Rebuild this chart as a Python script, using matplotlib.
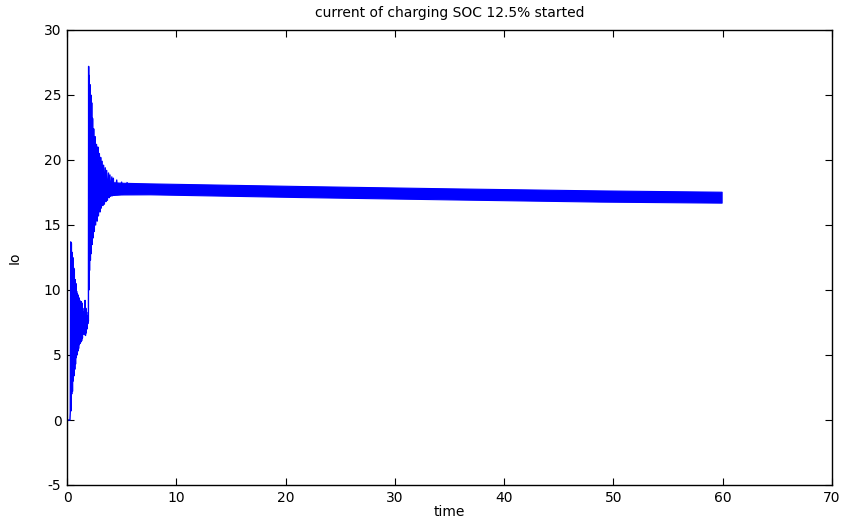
import matplotlib
matplotlib.use("Agg")
import matplotlib.pyplot as plt

# ---- data ----
# turning points of the transient oscillation (time, current)
trans_t = [0.0, 0.27, 0.30, 0.34, 0.37, 0.40, 0.43, 0.46, 0.50, 0.53, 0.57, 0.60,
           0.64, 0.67, 0.71, 0.74, 0.78, 0.81, 0.85, 0.88, 0.92, 0.95, 0.99, 1.02,
           1.06, 1.09, 1.13, 1.16, 1.20, 1.23, 1.27, 1.30, 1.34, 1.37, 1.41, 1.44,
           1.48, 1.51, 1.55, 1.58, 1.62, 1.65, 1.69, 1.72, 1.76, 1.79, 1.83, 1.86,
           1.90, 1.93, 1.96,
           1.98, 2.00, 2.03, 2.06, 2.10, 2.14, 2.18, 2.22, 2.26, 2.30, 2.34, 2.38,
           2.44, 2.50, 2.56, 2.62, 2.70, 2.76, 2.82, 2.88, 2.96, 3.02, 3.08, 3.14,
           3.22, 3.28, 3.35, 3.42, 3.50, 3.56, 3.63, 3.70, 3.80, 3.86, 3.93, 4.00,
           4.10, 4.15, 4.24, 4.32, 4.55, 4.62, 5.00, 5.10, 5.50]
trans_i = [0.0, 0.0, 0.6, 13.7, 0.7, 13.6, 2.0, 12.9, 2.2, 12.5, 3.0, 11.7,
           3.4, 11.6, 3.9, 10.8, 4.3, 10.5, 4.8, 9.9, 5.0, 9.7, 5.3, 9.6,
           5.5, 9.4, 5.8, 9.2, 5.9, 9.1, 6.0, 9.1, 6.1, 9.0, 6.3, 8.6,
           6.6, 8.3, 6.8, 8.1, 6.6, 9.2, 6.5, 8.6, 6.7, 8.3, 7.0, 8.0,
           7.4, 7.7, 7.6,
           27.2, 10.0, 26.5, 11.5, 25.8, 12.3, 25.0, 12.8, 24.4, 13.5, 23.2, 14.0,
           22.4, 14.5, 21.8, 15.0, 21.2, 15.3, 21.0, 15.7, 20.5, 16.0, 20.2, 16.3,
           19.9, 16.5, 19.6, 16.6, 19.4, 16.8, 19.2, 16.9, 19.0, 17.1, 18.85, 17.2,
           18.7, 17.25, 18.6, 17.3, 18.46, 17.35, 18.3, 17.35, 18.25]

# envelope of the fast ripple after settling
band_t = [2.0, 3.0, 4.0, 5.0, 7.6, 21.3, 35.0, 48.8, 59.9]
band_hi = [18.6, 18.4, 18.3, 18.25, 18.2, 18.0, 17.82, 17.66, 17.56]
band_lo = [17.0, 17.2, 17.3, 17.35, 17.36, 17.15, 16.97, 16.8, 16.72]

x_ticks = [0, 10, 20, 30, 40, 50, 60, 70]
y_ticks = [-5, 0, 5, 10, 15, 20, 25, 30]
title = "current of charging SOC 12.5% started"
xlabel = "time"
ylabel = "Io"

plt.rcParams['font.family'] = ['DejaVu Sans']
plt.rcParams['axes.unicode_minus'] = False

fig = plt.figure(figsize=(8.42, 5.22), dpi=100)
ax = fig.add_axes([67/842, 1-485/522, (832-67)/842, (485-30)/522])

blue = '#0000ff'
ax.fill_between(band_t, band_lo, band_hi, color=blue, linewidth=0.8)
ax.plot(trans_t, trans_i, color=blue, linewidth=1.0)

ax.set_xlim(0, 70)
ax.set_ylim(-5, 30)
ax.set_xticks(x_ticks)
ax.set_yticks(y_ticks)
ax.tick_params(direction='in', length=5, width=0.8, top=True, right=True,
               labelsize=10, pad=4)
for s in ax.spines.values():
    s.set_linewidth(1.0)
ax.set_title(title, fontsize=10, pad=9)
ax.set_xlabel(xlabel, fontsize=10, labelpad=0)
ax.set_ylabel(ylabel, fontsize=10, labelpad=16)

fig.savefig("out.png", dpi=100)
